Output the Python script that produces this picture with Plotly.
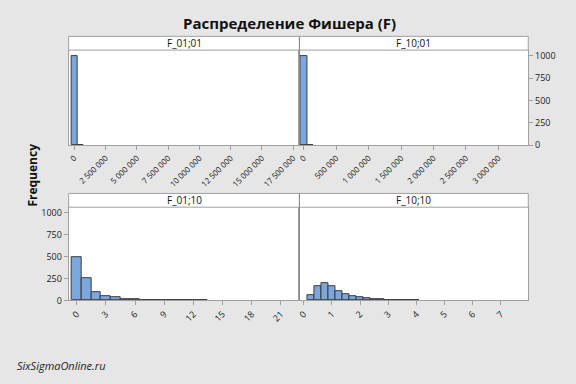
import plotly.graph_objects as go

# ---- data ----
panel_titles = ["F_01;01", "F_10;01", "F_01;10", "F_10;10"]

f0101_centers = [0, 500000]
f0101_counts = [998, 2]
f0101_width = 480000
f0101_ticks = [0, 2500000, 5000000, 7500000, 10000000, 12500000, 15000000, 17500000]
f0101_ticktext = ["0", "2 500 000", "5 000 000", "7 500 000", "10 000 000",
                  "12 500 000", "15 000 000", "17 500 000"]

f1001_centers = [0, 100000]
f1001_counts = [997, 3]
f1001_width = 102000
f1001_ticks = [0, 500000, 1000000, 1500000, 2000000, 2500000, 3000000]
f1001_ticktext = ["0", "500 000", "1 000 000", "1 500 000", "2 000 000",
                  "2 500 000", "3 000 000"]

f0110_centers = [0, 1, 2, 3, 4, 5, 6, 7, 8, 9, 10, 11, 12, 13]
f0110_counts = [497, 256, 98, 47, 32, 12, 9, 5, 3, 3, 2, 2, 2, 1]
f0110_width = 1
f0110_ticks = [0, 3, 6, 9, 12, 15, 18, 21]

f1010_centers = [0.25, 0.5, 0.75, 1.0, 1.25, 1.5, 1.75, 2.0, 2.25, 2.5, 2.75,
                 3.0, 3.25, 3.5, 3.75, 4.0]
f1010_counts = [57, 160, 197, 168, 105, 70, 46, 33, 22, 12, 9,
                8, 6, 4, 3, 2]
f1010_width = 0.25
f1010_ticks = [0, 1, 2, 3, 4, 5, 6, 7]

freq_ticks = [0, 250, 500, 750, 1000]

# ---- layout geometry (pixels) ----
W, H = 576, 384
BG = "#e6e6e6"
BAR = "#7ba7dc"
EDGE = "#3c3c3c"
FRAME = "#a0a0a0"
FONT = "Open Sans"

def px_x(v):
    return v / W

def px_y(v):
    return 1 - v / H

xl0, xmid, xr1 = 66, 298, 528
top_strip, top_plot0, top_plot1 = 36, 50, 147
bot_strip, bot_plot0, bot_plot1 = 196, 210, 305

fig = go.Figure()

panels = [
    (f0101_centers, f0101_counts, f0101_width, "x", "y"),
    (f1001_centers, f1001_counts, f1001_width, "x2", "y2"),
    (f0110_centers, f0110_counts, f0110_width, "x3", "y3"),
    (f1010_centers, f1010_counts, f1010_width, "x4", "y4"),
]
for c, n, w, xa, ya in panels:
    fig.add_trace(go.Bar(
        x=c, y=n, width=w, xaxis=xa, yaxis=ya,
        marker=dict(color=BAR, line=dict(color=EDGE, width=1)),
        showlegend=False, hoverinfo="x+y",
    ))

tickfont_small = dict(family=FONT, size=8, color="#222")
tickfont = dict(family=FONT, size=9, color="#222")

def xaxis(domain, anchor, rng, tickvals, ticktext, font):
    return dict(domain=domain, anchor=anchor, range=rng, tickvals=tickvals,
                ticktext=ticktext, tickangle=-45, tickfont=font,
                ticks="outside", ticklen=4, tickcolor=FRAME,
                showline=True, linecolor=FRAME, mirror=True,
                showgrid=False, zeroline=False, fixedrange=True)

def yaxis(domain, anchor, side, show):
    return dict(domain=domain, anchor=anchor, range=[0, 1062], side=side,
                tickvals=freq_ticks, showticklabels=show,
                ticks="outside" if show else "", ticklen=4, tickcolor=FRAME,
                tickfont=tickfont, showline=True, linecolor=FRAME, mirror=True,
                showgrid=False, zeroline=False, fixedrange=True)

dl = [px_x(xl0), px_x(xmid)]
dr = [px_x(xmid), px_x(xr1)]
dt = [px_y(top_plot1), px_y(top_plot0)]
db = [px_y(bot_plot1), px_y(bot_plot0)]

fig.update_layout(
    width=W, height=H,
    margin=dict(l=0, r=0, t=0, b=0),
    paper_bgcolor=BG, plot_bgcolor="white",
    bargap=0,
    xaxis=xaxis(dl, "y", [-450000, 18000000], f0101_ticks, f0101_ticktext, tickfont_small),
    yaxis=yaxis(dt, "x", "left", False),
    xaxis2=xaxis(dr, "y2", [-66000, 3460000], f1001_ticks, f1001_ticktext, tickfont_small),
    yaxis2=yaxis(dt, "x2", "right", True),
    xaxis3=xaxis(dl, "y3", [-0.82, 22.9], f0110_ticks, [str(t) for t in f0110_ticks], tickfont),
    yaxis3=yaxis(db, "x3", "left", True),
    xaxis4=xaxis(dr, "y4", [-0.15, 7.97], f1010_ticks, [str(t) for t in f1010_ticks], tickfont),
    yaxis4=yaxis(db, "x4", "left", False),
    font=dict(family=FONT),
)

shapes = []
annotations = []
strips = [
    (xl0, xmid, top_strip, top_plot0, panel_titles[0]),
    (xmid, xr1, top_strip, top_plot0, panel_titles[1]),
    (xl0, xmid, bot_strip, bot_plot0, panel_titles[2]),
    (xmid, xr1, bot_strip, bot_plot0, panel_titles[3]),
]
for x0, x1, y0, y1, t in strips:
    shapes.append(dict(type="rect", xref="paper", yref="paper",
                       x0=px_x(x0), x1=px_x(x1), y0=px_y(y1), y1=px_y(y0),
                       fillcolor="white", line=dict(color=FRAME, width=1)))
    annotations.append(dict(text=t, xref="paper", yref="paper",
                            x=(px_x(x0) + px_x(x1)) / 2, y=(px_y(y0) + px_y(y1)) / 2,
                            showarrow=False, xanchor="center", yanchor="middle",
                            font=dict(family=FONT, size=10, color="#111")))
for y0, y1 in [(top_strip, top_plot1), (bot_strip, bot_plot1)]:
    shapes.append(dict(type="line", xref="paper", yref="paper",
                       x0=px_x(xmid), x1=px_x(xmid), y0=px_y(y1), y1=px_y(y0),
                       line=dict(color="#8a8a8a", width=1)))

annotations.append(dict(text="<b>Распределение Фишера (F)</b>", xref="paper", yref="paper",
                        x=0.5, y=px_y(22), showarrow=False, xanchor="center", yanchor="middle",
                        font=dict(family=FONT, size=15, color="#111")))
annotations.append(dict(text="<b>Frequency</b>", xref="paper", yref="paper",
                        x=px_x(30), y=px_y(177), showarrow=False, textangle=-90,
                        xanchor="center", yanchor="middle",
                        font=dict(family=FONT, size=12, color="#111")))
annotations.append(dict(text="<i>SixSigmaOnline.ru</i>", xref="paper", yref="paper",
                        x=px_x(12), y=px_y(371), showarrow=False, xanchor="left", yanchor="middle",
                        font=dict(family=FONT, size=11, color="#222")))

fig.update_layout(shapes=shapes, annotations=annotations)
fig.write_html("out.html", config={"displayModeBar": False},
               post_script="document.body.style.margin='0';document.body.style.overflow='hidden';")
